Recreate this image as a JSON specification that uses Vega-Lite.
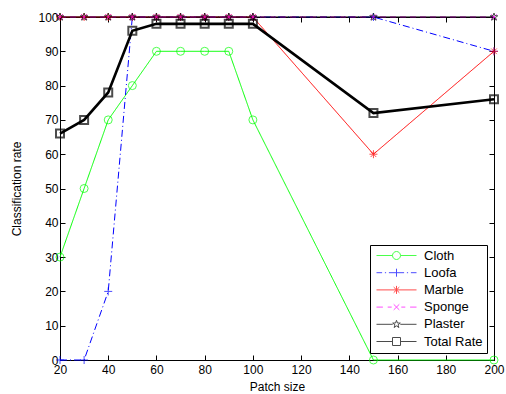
{
  "$schema": "https://vega.github.io/schema/vega-lite/v6.json",
  "width": 434,
  "height": 343,
  "autosize": "none",
  "padding": {"left": 60, "top": 17, "right": 12, "bottom": 34},
  "background": "white",
  "config": {
    "font": "Liberation Sans",
    "view": {"stroke": "black", "strokeWidth": 1},
    "axis": {"grid": false, "domainColor": "black", "tickColor": "black", "labelColor": "black", "titleColor": "black", "labelFontSize": 12, "titleFontSize": 12, "titleFontWeight": "normal", "labelFont": "Liberation Sans", "titleFont": "Liberation Sans", "labelOverlap": false}
  },
  "resolve": {"axis": {"x": "independent", "y": "independent"}},
  "data": {"values": [
    {"s": "Cloth", "x": 20, "y": 30}, {"s": "Cloth", "x": 30, "y": 50}, {"s": "Cloth", "x": 40, "y": 70}, {"s": "Cloth", "x": 50, "y": 80}, {"s": "Cloth", "x": 60, "y": 90}, {"s": "Cloth", "x": 70, "y": 90}, {"s": "Cloth", "x": 80, "y": 90}, {"s": "Cloth", "x": 90, "y": 90}, {"s": "Cloth", "x": 100, "y": 70}, {"s": "Cloth", "x": 150, "y": 0}, {"s": "Cloth", "x": 200, "y": 0},
    {"s": "Loofa", "x": 20, "y": 0}, {"s": "Loofa", "x": 30, "y": 0}, {"s": "Loofa", "x": 40, "y": 20}, {"s": "Loofa", "x": 50, "y": 100}, {"s": "Loofa", "x": 60, "y": 100}, {"s": "Loofa", "x": 70, "y": 100}, {"s": "Loofa", "x": 80, "y": 100}, {"s": "Loofa", "x": 90, "y": 100}, {"s": "Loofa", "x": 100, "y": 100}, {"s": "Loofa", "x": 150, "y": 100}, {"s": "Loofa", "x": 200, "y": 90},
    {"s": "Marble", "x": 20, "y": 100}, {"s": "Marble", "x": 30, "y": 100}, {"s": "Marble", "x": 40, "y": 100}, {"s": "Marble", "x": 50, "y": 100}, {"s": "Marble", "x": 60, "y": 100}, {"s": "Marble", "x": 70, "y": 100}, {"s": "Marble", "x": 80, "y": 100}, {"s": "Marble", "x": 90, "y": 100}, {"s": "Marble", "x": 100, "y": 100}, {"s": "Marble", "x": 150, "y": 60}, {"s": "Marble", "x": 200, "y": 90},
    {"s": "Sponge", "x": 20, "y": 100}, {"s": "Sponge", "x": 30, "y": 100}, {"s": "Sponge", "x": 40, "y": 100}, {"s": "Sponge", "x": 50, "y": 100}, {"s": "Sponge", "x": 60, "y": 100}, {"s": "Sponge", "x": 70, "y": 100}, {"s": "Sponge", "x": 80, "y": 100}, {"s": "Sponge", "x": 90, "y": 100}, {"s": "Sponge", "x": 100, "y": 100}, {"s": "Sponge", "x": 150, "y": 100}, {"s": "Sponge", "x": 200, "y": 100},
    {"s": "Plaster", "x": 20, "y": 100}, {"s": "Plaster", "x": 30, "y": 100}, {"s": "Plaster", "x": 40, "y": 100}, {"s": "Plaster", "x": 50, "y": 100}, {"s": "Plaster", "x": 60, "y": 100}, {"s": "Plaster", "x": 70, "y": 100}, {"s": "Plaster", "x": 80, "y": 100}, {"s": "Plaster", "x": 90, "y": 100}, {"s": "Plaster", "x": 100, "y": 100}, {"s": "Plaster", "x": 150, "y": 100}, {"s": "Plaster", "x": 200, "y": 100},
    {"s": "Total Rate", "x": 20, "y": 66}, {"s": "Total Rate", "x": 30, "y": 70}, {"s": "Total Rate", "x": 40, "y": 78}, {"s": "Total Rate", "x": 50, "y": 96}, {"s": "Total Rate", "x": 60, "y": 98}, {"s": "Total Rate", "x": 70, "y": 98}, {"s": "Total Rate", "x": 80, "y": 98}, {"s": "Total Rate", "x": 90, "y": 98}, {"s": "Total Rate", "x": 100, "y": 98}, {"s": "Total Rate", "x": 150, "y": 72}, {"s": "Total Rate", "x": 200, "y": 76}
  ]},
  "layer": [
    {
      "transform": [{"filter": "datum.s !== 'Total Rate'"}],
      "mark": {"type": "line", "clip": false, "strokeWidth": 1},
      "encoding": {
        "x": {"field": "x", "type": "quantitative", "scale": {"domain": [20, 200], "nice": false, "zero": false}, "axis": {"title": "Patch size", "values": [20,40,60,80,100,120,140,160,180,200], "tickSize": -5, "labelPadding": 9, "titlePadding": 6, "labelFlush": false, "labelOverlap": false}},
        "y": {"field": "y", "type": "quantitative", "scale": {"domain": [0, 100], "nice": false}, "axis": {"title": "Classification rate", "values": [0,10,20,30,40,50,60,70,80,90,100], "tickSize": -5, "labelPadding": 7, "titlePadding": 14, "labelFlush": false, "labelOverlap": false}},
        "color": {"field": "s", "type": "nominal", "title": null, "scale": {"domain": ["Cloth", "Loofa", "Marble", "Sponge", "Plaster", "Total Rate"], "range": ["#00ff00", "#0000ff", "#ff0000", "#ff00ff", "#000000", "#000000"]}},
        "strokeDash": {"condition": [{"test": "datum.s === 'Loofa'", "value": [7, 3, 1, 3]}, {"test": "datum.s === 'Sponge'", "value": [6, 4]}], "value": [1, 0]},
        "order": {"field": "x", "type": "quantitative"}
      }
    },
    {
      "transform": [{"filter": "datum.x > 1000"}],
      "mark": {"type": "point", "clip": false},
      "encoding": {
        "x": {"field": "x", "type": "quantitative", "axis": {"orient": "top", "title": null, "labels": false, "domain": false, "values": [20,40,60,80,100,120,140,160,180,200], "tickSize": -5}},
        "y": {"field": "y", "type": "quantitative", "axis": {"orient": "right", "title": null, "labels": false, "domain": false, "values": [0,10,20,30,40,50,60,70,80,90,100], "tickSize": -5}}
      }
    },
    {
      "transform": [{"filter": "datum.s === 'Total Rate'"}],
      "mark": {"type": "line", "clip": false, "strokeWidth": 2.6, "color": "black"},
      "encoding": {
        "x": {"field": "x", "type": "quantitative", "axis": null},
        "y": {"field": "y", "type": "quantitative", "axis": null},
        "order": {"field": "x", "type": "quantitative"}
      }
    },
    {
      "mark": {"type": "point", "filled": false, "clip": false, "size": 64},
      "encoding": {
        "x": {"field": "x", "type": "quantitative", "axis": null},
        "y": {"field": "y", "type": "quantitative", "axis": null},
        "color": {"field": "s", "type": "nominal", "title": null},
        "shape": {"condition": [
          {"test": "datum.s === 'Cloth'", "value": "circle"},
          {"test": "datum.s === 'Loofa'", "value": "M-1,0L1,0M0,-1L0,1"},
          {"test": "datum.s === 'Marble'", "value": "M-1,0L1,0M0,-1L0,1M-0.7,-0.7L0.7,0.7M-0.7,0.7L0.7,-0.7"},
          {"test": "datum.s === 'Sponge'", "value": "M-0.7,-0.7L0.7,0.7M-0.7,0.7L0.7,-0.7"},
          {"test": "datum.s === 'Plaster'", "value": "M0,-1L0.24,-0.32L0.95,-0.31L0.38,0.12L0.59,0.81L0,0.4L-0.59,0.81L-0.38,0.12L-0.95,-0.31L-0.24,-0.32Z"}
        ], "value": "square"},
        "strokeWidth": {"condition": {"test": "datum.s === 'Total Rate'", "value": 2}, "value": 1}
      }
    },
    {
      "transform": [{"filter": "datum.x > 1000"}],
      "mark": {"type": "point", "filled": false, "clip": false, "size": 64},
      "encoding": {
        "x": {"field": "x", "type": "quantitative", "axis": null},
        "y": {"field": "y", "type": "quantitative", "axis": null},
        "color": {"field": "s", "type": "nominal", "title": null, "legend": {"orient": "bottom-right", "offset": 7, "strokeColor": "black", "fillColor": "white", "padding": 4, "labelFontSize": 13, "labelFont": "Liberation Sans", "labelColor": "black", "rowPadding": 3.2, "symbolSize": 64, "symbolOffset": 16, "labelOffset": 21}},
        "shape": {"field": "s", "type": "nominal", "title": null, "scale": {"domain": ["Cloth", "Loofa", "Marble", "Sponge", "Plaster", "Total Rate"], "range": [
          "M-5,0L-1,0M1,0L5,0M-1,0A1,1,0,1,0,1,0A1,1,0,1,0,-1,0",
          "M-5,0L-3.6,0M-2.9,0L-2.6,0M-1.9,0L1.9,0M2.6,0L2.9,0M3.6,0L5,0M0,-1L0,1",
          "M-5,0L5,0M0,-1L0,1M-0.7,-0.7L0.7,0.7M-0.7,0.7L0.7,-0.7",
          "M-5,0L-3.4,0M-2.2,0L-1.2,0M1.2,0L2.2,0M3.4,0L5,0M-0.7,-0.7L0.7,0.7M-0.7,0.7L0.7,-0.7",
          "M-5,0L-0.95,0M0.95,0L5,0M0,-1L0.24,-0.32L0.95,-0.31L0.38,0.12L0.59,0.81L0,0.4L-0.59,0.81L-0.38,0.12L-0.95,-0.31L-0.24,-0.32Z",
          "M-5,0L-1,0M1,0L5,0M-1,-1L1,-1L1,1L-1,1Z"
        ]}},
        "strokeWidth": {"field": "s", "type": "nominal", "title": null, "scale": {"domain": ["Cloth", "Loofa", "Marble", "Sponge", "Plaster", "Total Rate"], "range": [1, 1, 1, 1, 1, 2.6]}}
      }
    }
  ]
}
